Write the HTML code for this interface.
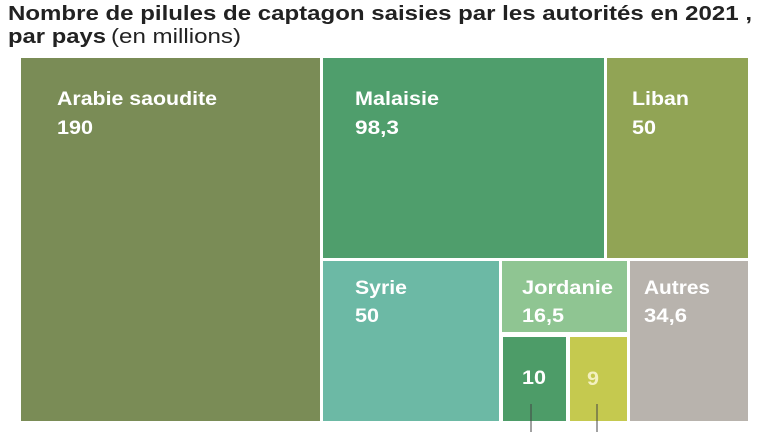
<!DOCTYPE html>
<html><head><meta charset="utf-8"><style>
html,body{margin:0;padding:0;background:#fff;}
svg{display:block;}
text{font-family:"Liberation Sans",sans-serif;}
.l{fill:#fff;font-size:19px;font-weight:bold;}
</style></head><body>
<svg width="770" height="432" viewBox="0 0 770 432">
<text x="8" y="20" font-size="20" font-weight="bold" fill="#222" textLength="744" lengthAdjust="spacingAndGlyphs">Nombre de pilules de captagon saisies par les autorités en 2021 ,</text>
<text x="8" y="43" font-size="20" fill="#222"><tspan font-weight="bold" textLength="98" lengthAdjust="spacingAndGlyphs">par pays</tspan><tspan dx="5" textLength="130" lengthAdjust="spacingAndGlyphs">(en millions)</tspan></text>
<rect x="21" y="58" width="299" height="363" fill="#7a8c56"/>
<rect x="323" y="58" width="281" height="200" fill="#4f9e6c"/>
<rect x="607" y="58" width="141" height="200" fill="#91a455"/>
<rect x="323" y="261" width="176" height="160" fill="#6cb9a5"/>
<rect x="502" y="261" width="125" height="71" fill="#8fc592"/>
<rect x="503" y="337" width="63" height="84" fill="#4d9c68"/>
<rect x="570" y="337" width="57" height="84" fill="#c5c94f"/>
<rect x="630" y="261" width="118" height="160" fill="#b8b3ad"/>
<line x1="531" y1="404" x2="531" y2="432" stroke="#444" stroke-width="1"/>
<line x1="597" y1="404" x2="597" y2="432" stroke="#444" stroke-width="1"/>
<g class="l">
<text x="57" y="105" textLength="160" lengthAdjust="spacingAndGlyphs">Arabie saoudite</text>
<text x="57" y="134" textLength="36" lengthAdjust="spacingAndGlyphs">190</text>
<text x="355" y="105" textLength="84" lengthAdjust="spacingAndGlyphs">Malaisie</text>
<text x="355" y="134" textLength="44" lengthAdjust="spacingAndGlyphs">98,3</text>
<text x="632" y="105" textLength="57" lengthAdjust="spacingAndGlyphs">Liban</text>
<text x="632" y="134" textLength="24" lengthAdjust="spacingAndGlyphs">50</text>
<text x="355" y="294" textLength="52" lengthAdjust="spacingAndGlyphs">Syrie</text>
<text x="355" y="322" textLength="24" lengthAdjust="spacingAndGlyphs">50</text>
<text x="522" y="294" textLength="91" lengthAdjust="spacingAndGlyphs">Jordanie</text>
<text x="522" y="322" textLength="42" lengthAdjust="spacingAndGlyphs">16,5</text>
<text x="644" y="294" textLength="66" lengthAdjust="spacingAndGlyphs">Autres</text>
<text x="644" y="322" textLength="43" lengthAdjust="spacingAndGlyphs">34,6</text>
<text x="522" y="384" textLength="24" lengthAdjust="spacingAndGlyphs">10</text>
<text x="587" y="385" fill="#f3f0c0" textLength="12" lengthAdjust="spacingAndGlyphs">9</text>
</g>
</svg>
</body></html>
